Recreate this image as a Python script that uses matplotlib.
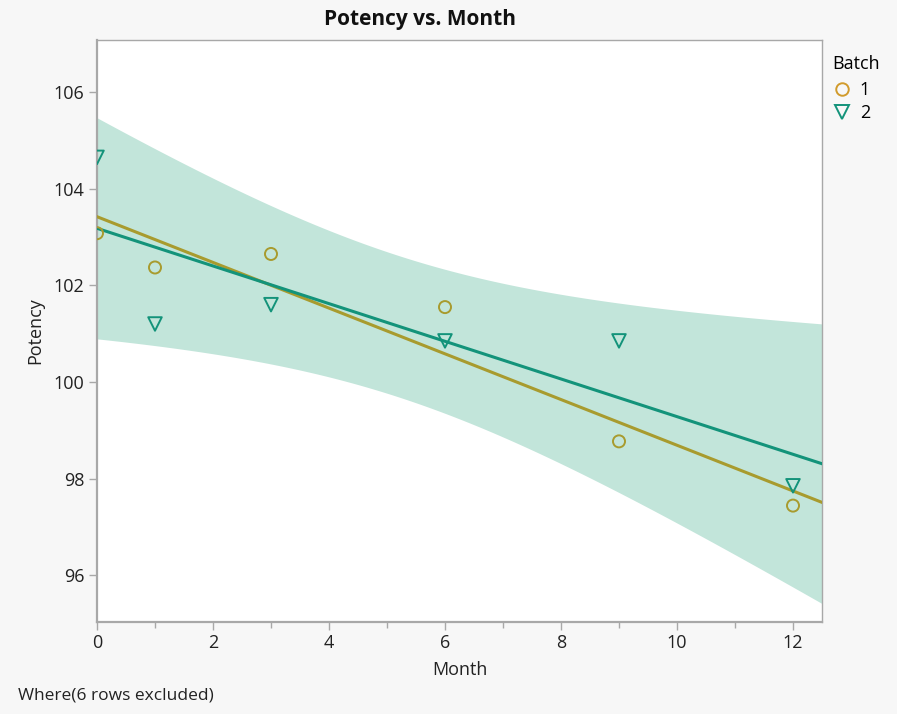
import numpy as np
import matplotlib.pyplot as plt
from matplotlib.ticker import MultipleLocator
from matplotlib.lines import Line2D

plt.rcParams['font.family'] = ['Open Sans', 'DejaVu Sans']

# data
month = np.array([0, 1, 3, 6, 9, 12])
potency_b1 = np.array([103.08, 102.37, 102.65, 101.55, 98.77, 97.44])
potency_b2 = np.array([104.65, 101.20, 101.60, 100.85, 100.85, 97.85])

batches = ['1', '2']
colAxis = '#a8a8a8'
colB1 = '#d19b2c'
colB1line = '#a89b2e'
colB2 = '#13937a'
colBand = '#c2e5da'

T975_DF4 = 2.776  # t quantile, 95% two sided, 4 dof


def fitLine(x, y):
  slope, icpt = np.polyfit(x, y, 1)
  return slope, icpt


def confBand(x, y, xs):
  slope, icpt = fitLine(x, y)
  resid = y - (icpt + slope*x)
  s = np.sqrt(np.sum(resid**2) / (len(x) - 2))
  sxx = np.sum((x - x.mean())**2)
  se = s*np.sqrt(1.0/len(x) + (xs - x.mean())**2 / sxx)
  yhat = icpt + slope*xs
  return yhat - T975_DF4*se, yhat + T975_DF4*se


fig = plt.figure(figsize=(8.97, 7.14), dpi=100)
fig.patch.set_facecolor('#f7f7f7')
ax = fig.add_axes([97/897, 1-622/714, 725/897, 582/714])
ax.set_facecolor('white')

xs = np.linspace(0, 12.5, 200)
lo, hi = confBand(month, potency_b2, xs)
ax.fill_between(xs, lo, hi, color=colBand, lw=0, zorder=1)

s1, i1 = fitLine(month, potency_b1)
s2, i2 = fitLine(month, potency_b2)
ax.plot(xs, i1 + s1*xs, color=colB1line, lw=2.2, zorder=3)
ax.plot(xs, i2 + s2*xs, color=colB2, lw=2.2, zorder=3)

ax.scatter(month, potency_b1, s=75, marker='o', facecolors='none',
           edgecolors=colB1line, linewidths=1.4, zorder=4)
ax.scatter(month, potency_b2, s=95, marker='v', facecolors='none',
           edgecolors=colB2, linewidths=1.4, zorder=4)

ax.set_xlim(0, 12.5)
ax.set_ylim(95.03, 107.08)
ax.xaxis.set_major_locator(MultipleLocator(2))
ax.xaxis.set_minor_locator(MultipleLocator(1))
ax.yaxis.set_major_locator(MultipleLocator(2))

for sp in ax.spines.values():
  sp.set_color(colAxis)
  sp.set_linewidth(1.0)
ax.spines['left'].set_linewidth(1.6)
ax.spines['bottom'].set_linewidth(1.6)
ax.tick_params(axis='both', which='major', length=6, width=1, color=colAxis,
               labelsize=13, labelcolor='#222222', pad=3)
ax.tick_params(axis='x', which='minor', length=4, width=1, color=colAxis)

ax.set_xlabel('Month', fontsize=13, color='#222222', labelpad=6)
ax.set_ylabel('Potency', fontsize=13, color='#222222', labelpad=7)

fig.text(420/897, 1-20/714, 'Potency vs. Month', ha='center', va='center',
         fontsize=15, fontweight='bold', color='#111111')
fig.text(18/897, 1-695/714, 'Where(6 rows excluded)', ha='left', va='center',
         fontsize=12.5, color='#222222')

handles = [Line2D([], [], marker='o', ls='none', markersize=9, markerfacecolor='none',
                  markeredgecolor=colB1, markeredgewidth=1.4),
           Line2D([], [], marker='v', ls='none', markersize=10, markerfacecolor='none',
                  markeredgecolor=colB2, markeredgewidth=1.4)]
leg = fig.legend(handles, batches, title='Batch', loc='upper left',
                 bbox_to_anchor=(820/897, 1-42/714), frameon=False, fontsize=13,
                 title_fontsize=13, handlelength=1.0, handletextpad=0.5,
                 labelspacing=0.3, borderpad=0.2)
leg._legend_box.align = 'left'
leg._legend_box.sep = 6

fig.savefig('out.png', dpi=100, facecolor=fig.get_facecolor())
